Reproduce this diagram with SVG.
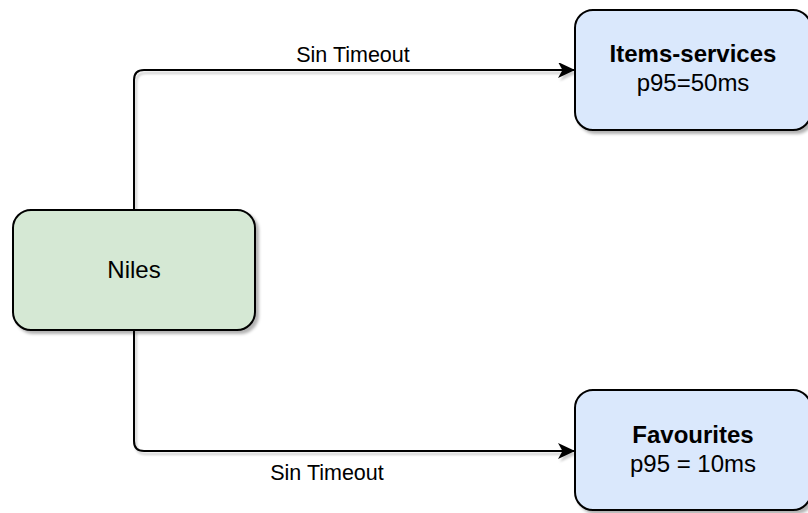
<svg xmlns="http://www.w3.org/2000/svg" width="808" height="513" viewBox="0 0 808 513">
  <defs>
    <filter id="shadow" x="-10%" y="-10%" width="130%" height="140%">
      <feDropShadow dx="3" dy="3" stdDeviation="1.5" flood-color="#000" flood-opacity="0.3"/>
    </filter>
    <filter id="lineShadow" x="-5%" y="-5%" width="115%" height="115%">
      <feDropShadow dx="2" dy="3" stdDeviation="1" flood-color="#000" flood-opacity="0.2"/>
    </filter>
    <marker id="arrow" markerWidth="18" markerHeight="16" refX="17" refY="8" orient="auto" markerUnits="userSpaceOnUse">
      <path d="M0,0 L17,8 L0,16 L4.5,8 Z" fill="#000"/>
    </marker>
  </defs>
  <style>
    .node rect { stroke: #000; stroke-width: 2; filter: url(#shadow); }
    .green { fill: #d5e8d4; }
    .blue { fill: #dae8fc; }
    text { font-family: "Liberation Sans", Arial, Helvetica, sans-serif; fill: #000; text-anchor: middle; }
    .title { font-size: 24px; font-weight: bold; }
    .body { font-size: 24px; }
    .label { font-size: 21.5px; }
    .edge { fill: none; stroke: #000; stroke-width: 2; filter: url(#lineShadow); }
  </style>

  <g id="connectors">
    <path class="edge" d="M134,210 L134,80 Q134,70 144,70 L575,70" marker-end="url(#arrow)"/>
    <path class="edge" d="M134,330 L134,441 Q134,451 144,451 L575,451" marker-end="url(#arrow)"/>
    <text class="label" x="353" y="62">Sin Timeout</text>
    <text class="label" x="327" y="480">Sin Timeout</text>
  </g>

  <g id="niles" class="node">
    <rect class="green" x="13" y="210" width="242" height="120" rx="18" ry="18"/>
    <text class="body" x="134" y="278">Niles</text>
  </g>

  <g id="items-services" class="node">
    <rect class="blue" x="575" y="10" width="236" height="120" rx="18" ry="18"/>
    <text class="title" x="693" y="62">Items-services</text>
    <text class="body" x="693" y="91">p95=50ms</text>
  </g>

  <g id="favourites" class="node">
    <rect class="blue" x="575" y="390" width="236" height="120" rx="18" ry="18"/>
    <text class="title" x="693" y="443">Favourites</text>
    <text class="body" x="693" y="472">p95 = 10ms</text>
  </g>
</svg>
